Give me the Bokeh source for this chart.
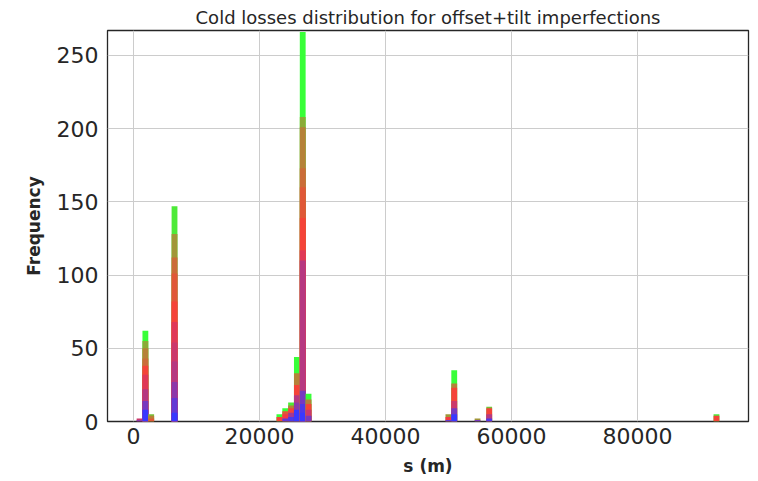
import numpy as np
from bokeh.plotting import figure
from bokeh.models import Range1d, ColumnDataSource, FixedTicker
from bokeh.embed import file_html
from bokeh.resources import INLINE

# ---- data -------------------------------------------------------------
title_text = "Cold losses distribution for offset+tilt imperfections"
x_label = "s (m)"
y_label = "Frequency"

hist_min = 498.0      # histogram range (m)
hist_max = 92998.0
n_bins = 100
n_series = 20         # stacked datasets, coloured with the 'brg' colormap

x_ticks = [0, 20000, 40000, 60000, 80000]
y_ticks = [0, 50, 100, 150, 200, 250]

# non-empty bins and, for each, the counts of the 20 stacked datasets
active_bins = [0, 1, 2, 6, 24, 25, 26, 27, 28, 29, 53, 54, 58, 60, 99]
counts_by_bin = [
    # 0  1  2  3  4  5  6  7  8  9 10 11 12 13 14 15 16 17 18 19
    [0, 0, 0, 0, 1, 0, 0, 1, 0, 0, 0, 0, 0, 0, 0, 0, 0, 0, 0, 0],     # bin 0
    [8, 0, 0, 6, 0, 0, 8, 0, 10, 0, 6, 0, 5, 7, 0, 5, 0, 0, 0, 7],    # bin 1
    [0, 0, 0, 0, 0, 0, 0, 0, 0, 0, 0, 2, 0, 2, 0, 0, 1, 0, 0, 0],     # bin 2
    [6, 0, 10, 0, 11, 0, 14, 13, 14, 0, 14, 19, 11, 0, 16, 0, 0, 0, 19, 0],  # bin 6
    [0, 0, 0, 0, 0, 0, 0, 0, 0, 0, 3, 0, 0, 0, 0, 0, 0, 0, 0, 2],     # bin 24
    [0, 0, 2, 0, 0, 0, 0, 0, 0, 3, 0, 2, 0, 0, 0, 0, 0, 0, 0, 2],     # bin 25
    [0, 3, 0, 0, 0, 3, 0, 0, 0, 0, 3, 0, 0, 2, 0, 0, 0, 0, 2, 0],     # bin 26
    [8, 0, 0, 0, 5, 0, 5, 0, 0, 0, 7, 0, 0, 8, 0, 0, 0, 0, 0, 11],    # bin 27
    [6, 6, 0, 9, 0, 0, 89, 0, 7, 0, 22, 21, 13, 28, 0, 7, 0, 0, 0, 58],  # bin 28
    [0, 0, 0, 4, 0, 0, 0, 4, 0, 0, 4, 0, 0, 3, 0, 0, 0, 0, 0, 4],     # bin 29
    [0, 0, 1, 0, 0, 0, 0, 0, 0, 2, 0, 0, 0, 0, 2, 0, 0, 0, 0, 0],     # bin 53
    [5, 0, 0, 4, 0, 0, 0, 5, 0, 0, 9, 0, 0, 3, 0, 0, 0, 0, 0, 9],     # bin 54
    [0, 0, 0, 1, 0, 0, 0, 0, 0, 0, 0, 0, 0, 0, 1, 0, 0, 0, 0, 0],     # bin 58
    [0, 2, 0, 0, 0, 0, 3, 0, 0, 0, 4, 0, 0, 0, 0, 0, 1, 0, 0, 0],     # bin 60
    [0, 0, 0, 0, 0, 0, 0, 0, 0, 0, 4, 0, 0, 0, 0, 0, 0, 0, 1, 0],     # bin 99
]

# ---- colours: matplotlib 'brg' colormap at alpha 0.78 over white ------
ALPHA = 0.78

def brg(t):
    if t <= 0.5:
        r, g, b = 2 * t, 0.0, 1 - 2 * t
    else:
        r, g, b = 2 * (1 - t), 2 * t - 1, 0.0
    mix = [int(round(255 * (c * ALPHA + (1 - ALPHA)))) for c in (r, g, b)]
    return "#%02x%02x%02x" % tuple(mix)

series_colors = [brg(i / (n_series - 1)) for i in range(n_series)]

# ---- build stacked segments (drawn top-down from 0, opaque: no seams) --
edges = np.linspace(hist_min, hist_max, n_bins + 1)
left, right, top, color = [], [], [], []
for k, counts in zip(active_bins, counts_by_bin):
    cum = np.cumsum(counts)
    for i in range(n_series - 1, -1, -1):
        if counts[i] <= 0:
            continue
        left.append(edges[k]); right.append(edges[k + 1])
        top.append(int(cum[i]))
        color.append(series_colors[i])

src = ColumnDataSource(dict(left=left, right=right, top=top, color=color))

FONT = "DejaVu Sans"

p = figure(width=758, height=481, output_backend="svg", toolbar_location=None,
           x_range=Range1d(-4127, 97619), y_range=Range1d(0, 267),
           min_border_left=107, min_border_right=10, min_border_top=30,
           min_border_bottom=60, title=title_text)

p.quad(left="left", right="right", bottom=0, top="top", source=src,
       fill_color="color", fill_alpha=1.0, line_color=None)

p.title.text_font = FONT
p.title.text_font_size = "18px"
p.title.text_font_style = "normal"
p.title.text_color = "#262626"
p.title.align = "center"
p.title.standoff = 6

p.outline_line_color = "#262626"
p.outline_line_width = 1.3
p.background_fill_color = "white"
p.border_fill_color = "white"

for ax in (p.xaxis[0], p.yaxis[0]):
    ax.axis_line_color = None
    ax.major_tick_line_color = None
    ax.minor_tick_line_color = None
    ax.major_tick_in = 0
    ax.major_tick_out = 0
    ax.major_label_text_font = FONT
    ax.major_label_text_font_size = "22px"
    ax.major_label_text_color = "#262626"
    ax.axis_label_text_font = FONT
    ax.axis_label_text_font_size = "17px"
    ax.axis_label_text_font_style = "bold"
    ax.axis_label_text_color = "#262626"

p.xaxis.major_label_standoff = 6
p.yaxis.major_label_standoff = 9
p.xaxis.ticker = FixedTicker(ticks=x_ticks)
p.yaxis.ticker = FixedTicker(ticks=y_ticks)
p.xaxis.axis_label = x_label
p.yaxis.axis_label = y_label
p.xaxis.axis_label_standoff = 9
p.yaxis.axis_label_standoff = 10

p.xgrid.ticker = FixedTicker(ticks=x_ticks)
p.ygrid.ticker = FixedTicker(ticks=y_ticks)
p.grid.grid_line_color = "#cccccc"
p.grid.grid_line_width = 1

open("out.html", "w").write(file_html(p, INLINE))
